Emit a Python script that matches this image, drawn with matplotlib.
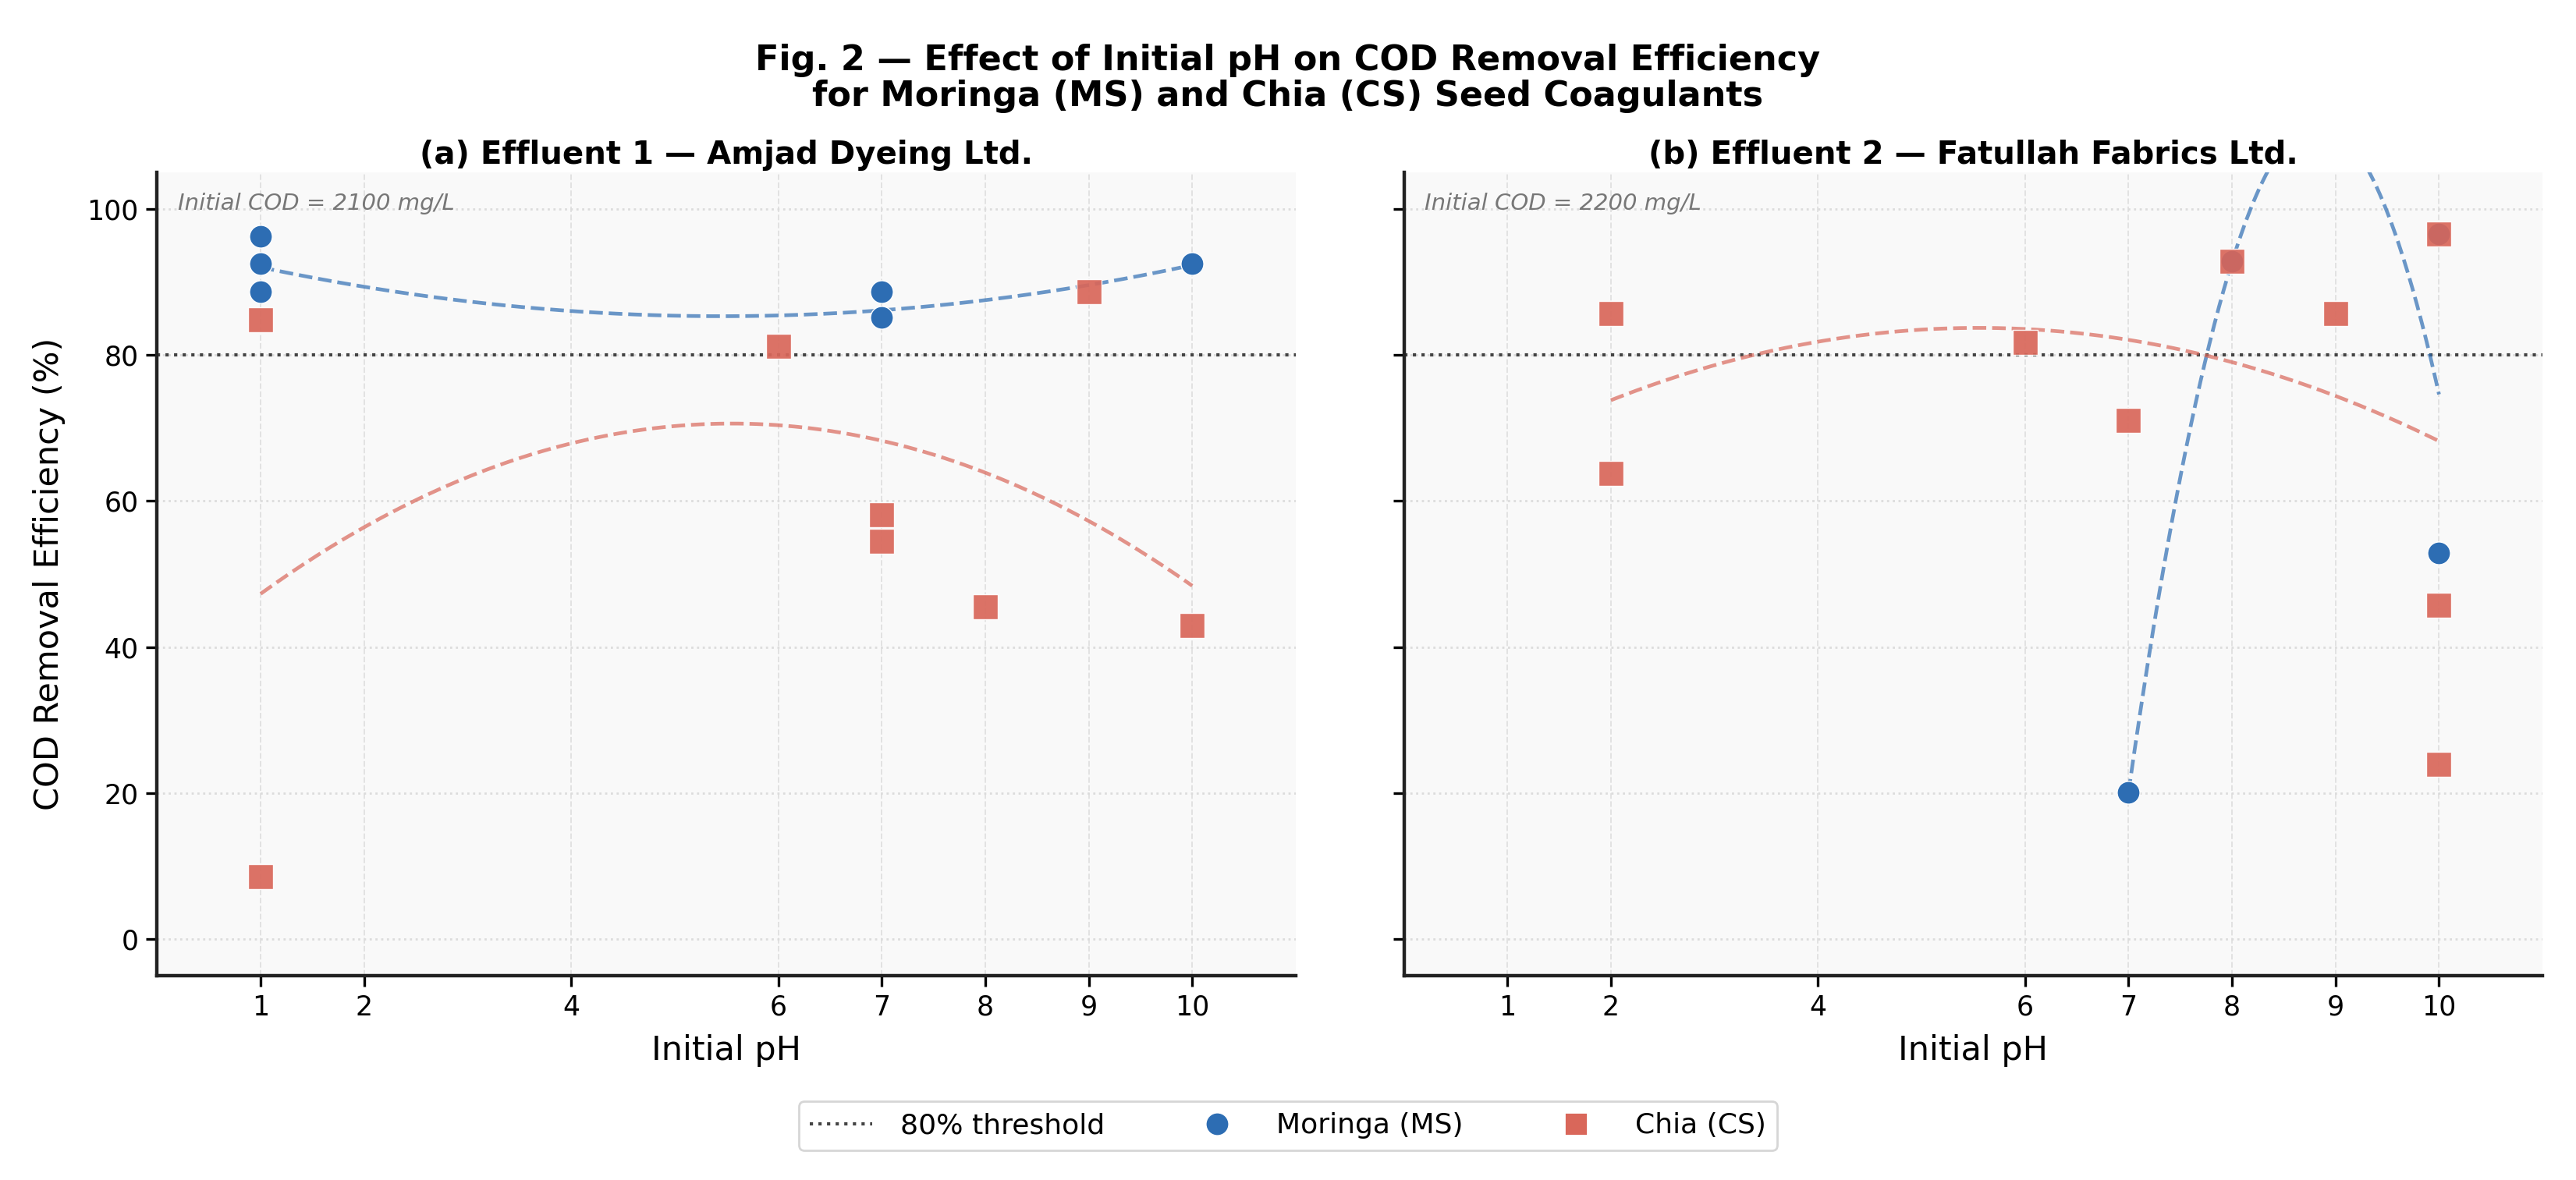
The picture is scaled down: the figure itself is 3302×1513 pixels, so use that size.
import numpy as np
import matplotlib
matplotlib.use("Agg")
import matplotlib.pyplot as plt
from matplotlib.lines import Line2D

# ── data ────────────────────────────────────────────────────────────────────
PH_TICKS = [1, 2, 4, 6, 7, 8, 9, 10]
THRESHOLD = 80

# panel (a) Effluent 1 — Amjad Dyeing Ltd.
a_ms_ph  = [1, 1, 1, 7, 7, 10]
a_ms_cod = [96.2, 92.5, 88.7, 88.7, 85.1, 92.5]
a_cs_ph  = [1, 1, 6, 7, 7, 8, 9, 10]
a_cs_cod = [84.8, 8.6, 81.2, 58.1, 54.5, 45.5, 88.7, 43.0]

# panel (b) Effluent 2 — Fatullah Fabrics Ltd.  (two MS points sit under CS squares)
b_ms_ph  = [7, 8, 10, 10]
b_ms_cod = [20.1, 92.8, 52.9, 96.6]
b_cs_ph  = [2, 2, 6, 7, 8, 9, 10, 10, 10]
b_cs_cod = [85.7, 63.8, 81.7, 71.0, 92.8, 85.7, 96.6, 45.7, 24.0]

# quadratic trend lines, read at start / turning point / end
a_ms_fit_ph, a_ms_fit_cod = [1, 5.5, 10], [92.0, 85.3, 92.3]
a_cs_fit_ph, a_cs_fit_cod = [1, 5.5, 10], [47.3, 70.6, 48.4]
b_ms_fit_ph, b_ms_fit_cod = [7, 8, 10], [20.1, 92.7, 74.6]
b_cs_fit_ph, b_cs_fit_cod = [2, 5.6, 10], [73.8, 83.7, 68.2]

PANELS = [
    ("(a) Effluent 1 — Amjad Dyeing Ltd.", "Initial COD = 2100 mg/L",
     a_ms_ph, a_ms_cod, a_cs_ph, a_cs_cod,
     (a_ms_fit_ph, a_ms_fit_cod), (a_cs_fit_ph, a_cs_fit_cod)),
    ("(b) Effluent 2 — Fatullah Fabrics Ltd.", "Initial COD = 2200 mg/L",
     b_ms_ph, b_ms_cod, b_cs_ph, b_cs_cod,
     (b_ms_fit_ph, b_ms_fit_cod), (b_cs_fit_ph, b_cs_fit_cod)),
]

C_MS = "#2d6db3"
C_CS = "#d9675a"

plt.rcParams["font.family"] = "DejaVu Sans"

fig, axes = plt.subplots(1, 2, figsize=(16.51, 7.565), dpi=200, sharey=True)
fig.subplots_adjust(left=0.061, right=0.987, top=0.854, bottom=0.173, wspace=0.095)


def trend(ax, x, y, color):
    c = np.polyfit(x, y, 2)
    xs = np.linspace(min(x), max(x), 200)
    ax.plot(xs, np.polyval(c, xs), ls="--", lw=1.7, color=color, alpha=0.7, zorder=2)


for ax, (title, note, ms_x, ms_y, cs_x, cs_y, ms_fit, cs_fit) in zip(axes, PANELS):
    ax.set_facecolor("#f9f9f9")
    ax.grid(True, axis="x", ls="--", lw=0.7, color="#e2e2e2", zorder=0)
    ax.grid(True, axis="y", ls=":", lw=1.0, color="#dcdcdc", zorder=0)
    ax.set_axisbelow(True)
    ax.axhline(THRESHOLD, color="#444444", ls=":", lw=1.5, zorder=1)

    trend(ax, *ms_fit, C_MS)
    trend(ax, *cs_fit, C_CS)

    ax.scatter(ms_x, ms_y, s=110, marker="o", color=C_MS, edgecolor="white",
               linewidth=0.5, zorder=3)
    ax.scatter(cs_x, cs_y, s=130, marker="s", color=C_CS, edgecolor="white",
               linewidth=0.5, alpha=0.92, zorder=4)

    ax.text(0.018, 0.975, note, transform=ax.transAxes, ha="left", va="top",
            style="italic", fontsize=10.5, color="#777777")

    ax.set_title(title, fontsize=14.5, fontweight="bold", pad=4)
    ax.set_xlabel("Initial pH", fontsize=15.5, labelpad=6)
    ax.set_xticks(PH_TICKS)
    ax.set_xlim(0, 11)
    ax.set_ylim(-5, 105)
    ax.set_yticks([0, 20, 40, 60, 80, 100])
    ax.tick_params(labelsize=12.5, length=5, width=1.2)
    for s in ["top", "right"]:
        ax.spines[s].set_visible(False)
    for s in ["left", "bottom"]:
        ax.spines[s].set_linewidth(1.6)
        ax.spines[s].set_color("#222222")

axes[0].set_ylabel("COD Removal Efficiency (%)", fontsize=15.5, labelpad=10)

fig.suptitle("Fig. 2 — Effect of Initial pH on COD Removal Efficiency\n"
             "for Moringa (MS) and Chia (CS) Seed Coagulants",
             fontsize=16, fontweight="bold", y=0.963, va="top", linespacing=1.1)

handles = [
    Line2D([], [], color="#444444", ls=":", lw=1.5, label="80% threshold"),
    Line2D([], [], color=C_MS, marker="o", ls="none", markersize=11,
           markeredgecolor="white", label="Moringa (MS)"),
    Line2D([], [], color=C_CS, marker="s", ls="none", markersize=10.5,
           markeredgecolor="white", label="Chia (CS)"),
]
fig.legend(handles=handles, loc="center", bbox_to_anchor=(0.5, 0.046), ncol=3,
           fontsize=13, frameon=True, fancybox=True, edgecolor="#cccccc",
           handlelength=2.2, handletextpad=1.0, columnspacing=2.9)

fig.savefig("out.png", dpi=200)
